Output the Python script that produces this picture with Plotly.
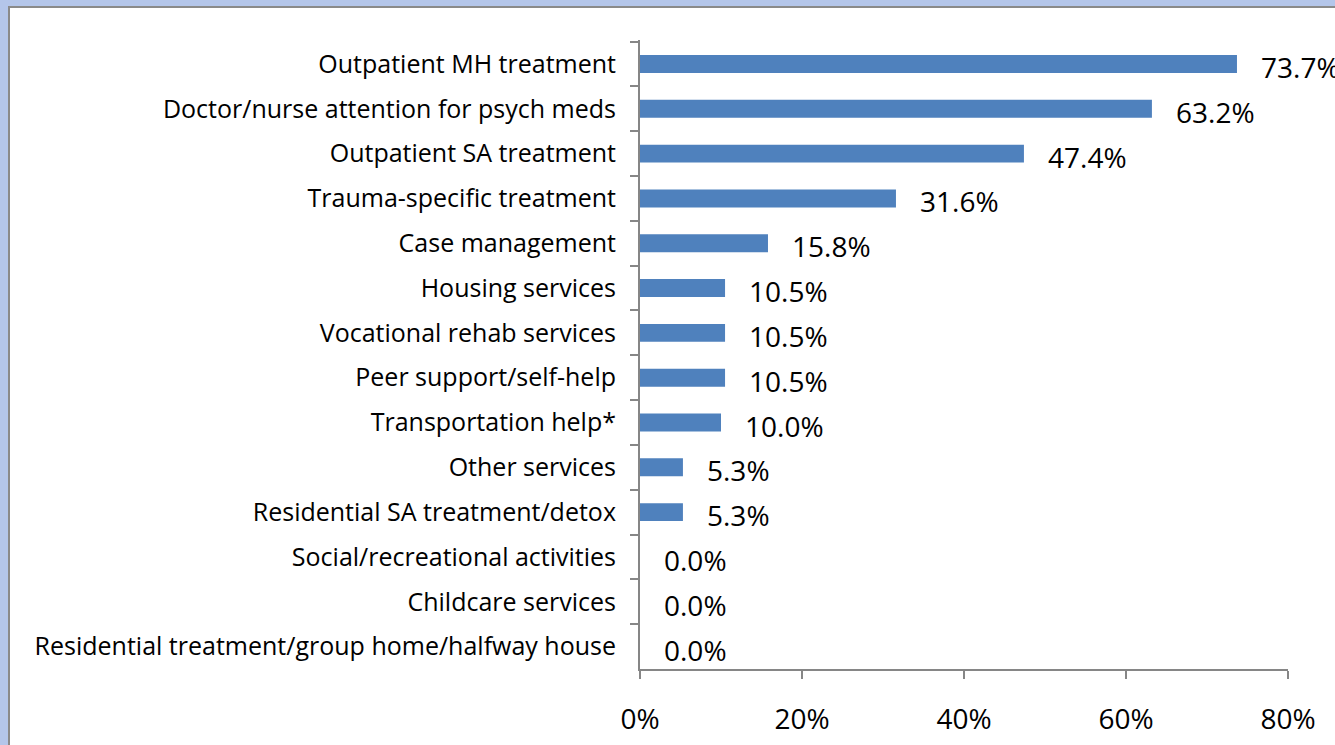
import plotly.graph_objects as go

categories = [
    "Outpatient MH treatment",
    "Doctor/nurse attention for psych meds",
    "Outpatient SA treatment",
    "Trauma-specific treatment",
    "Case management",
    "Housing services",
    "Vocational rehab services",
    "Peer support/self-help",
    "Transportation help*",
    "Other services",
    "Residential SA treatment/detox",
    "Social/recreational activities",
    "Childcare services",
    "Residential treatment/group home/halfway house",
]
values = [73.7, 63.2, 47.4, 31.6, 15.8, 10.5, 10.5, 10.5, 10.0, 5.3, 5.3, 0.0, 0.0, 0.0]
x_ticks = [0, 20, 40, 60, 80]
x_tick_labels = ["0%", "20%", "40%", "60%", "80%"]

FONT = "Open Sans"
AXIS_COLOR = "#868686"

fig = go.Figure()
fig.add_trace(go.Bar(
    x=values, y=categories, orientation="h",
    marker=dict(color="#4f81bd", line=dict(width=0)),
    width=0.4,
    hoverinfo="skip",
))

for c, v in zip(categories, values):
    fig.add_annotation(
        x=v, y=c, xref="x", yref="y",
        text=f"{v:.1f}%", showarrow=False,
        xanchor="left", yanchor="middle",
        xshift=22, yshift=-3,
        font=dict(family=FONT, size=28, color="#000000"),
    )

# white panel with grey border on a blue background
fig.add_shape(type="rect", xref="paper", yref="paper",
              x0=-631/648, x1=1.2, y0=-0.2, y1=(745-7-76)/629,
              fillcolor="#ffffff", line=dict(color="#8a8a8a", width=2),
              layer="below")

fig.update_layout(
    width=1335, height=745,
    margin=dict(l=640, r=47, t=40, b=76),
    paper_bgcolor="#b4c6ea",
    plot_bgcolor="rgba(0,0,0,0)",
    showlegend=False,
    font=dict(family=FONT, color="#000000"),
    bargap=0.6,
)
fig.update_xaxes(
    range=[0, 80], tickvals=x_ticks, ticktext=x_tick_labels,
    automargin=False,
    showgrid=False, zeroline=False,
    showline=True, linecolor=AXIS_COLOR, linewidth=2,
    ticks="outside", ticklen=8, tickcolor=AXIS_COLOR, tickwidth=2,
    tickfont=dict(family=FONT, size=28, color="#000000"),
    ticklabelstandoff=16,
)
fig.update_yaxes(
    categoryorder="array", categoryarray=categories,
    autorange="reversed", automargin=False,
    showgrid=False, zeroline=False,
    showline=True, linecolor=AXIS_COLOR, linewidth=2,
    ticks="outside", ticklen=8, tickcolor=AXIS_COLOR, tickwidth=2,
    tickson="boundaries",
    tickfont=dict(family=FONT, size=25, color="#000000"),
    ticklabelstandoff=17,
)

fig.write_html(
    "out.html",
    config={"displayModeBar": False},
    post_script="document.body.style.margin='0';document.body.style.overflow='hidden';",
)
